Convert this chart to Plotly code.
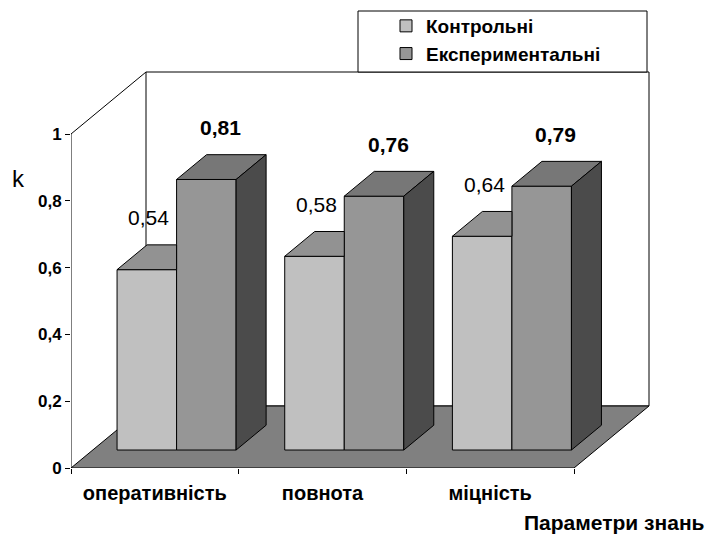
import plotly.graph_objects as go

# ---------------- data ----------------
categories = ["оперативність", "повнота", "міцність"]
series_names = ["Контрольні", "Експериментальні"]
control = [0.54, 0.58, 0.64]
experimental = [0.81, 0.76, 0.79]
y_tick_values = [0, 0.2, 0.4, 0.6, 0.8, 1.0]
y_tick_labels = ["0", "0,2", "0,4", "0,6", "0,8", "1"]
x_title = "Параметри знань"
y_title = "k"

# ---------------- geometry / style ----------------
W, H = 709, 534
ML, MR, MT, MB = 71, 9, 0, 66
PX_X = 167.67          # px per category
PX_Y = 334.0           # px per value unit
plot_w = W - ML - MR
plot_h = H - MT - MB
XR = [0, plot_w / PX_X]
YR = [0, plot_h / PX_Y]
DX = 75 / PX_X         # full depth offset (x)
DY = 62 / PX_Y         # full depth offset (y)
F1, F2 = 0.29, 0.69    # bar front/back depth fractions
BAR_W = 0.355
n = len(categories)

C_FRONT = ["#C0C0C0", "#969696"]
C_TOP = ["#929292", "#777777"]
C_SIDE = ["#606060", "#4B4B4B"]
FLOOR = "#808080"
FONT = "Liberation Sans, Arial, sans-serif"

base = F1 * DY
ddx = (F2 - F1) * DX
ddy = (F2 - F1) * DY

def px_x(p):
    return (p - ML) / plot_w

def px_y(p):
    return (H - MB - p) / plot_h

fig = go.Figure()

centers_c = [i + 0.5 + F1 * DX - BAR_W / 2 for i in range(n)]
centers_e = [i + 0.5 + F1 * DX + BAR_W / 2 for i in range(n)]

# front faces (real bars)
fig.add_trace(go.Bar(x=centers_c, y=control, base=[base] * n, width=BAR_W,
                     name=series_names[0],
                     marker=dict(color=C_FRONT[0], line=dict(color="black", width=1)),
                     hoverinfo="skip"))
fig.add_trace(go.Bar(x=centers_e, y=experimental, base=[base] * n, width=BAR_W,
                     name=series_names[1],
                     marker=dict(color=C_FRONT[1], line=dict(color="black", width=1)),
                     hoverinfo="skip"))

def poly(xs, ys, color):
    fig.add_trace(go.Scatter(x=xs + [xs[0]], y=ys + [ys[0]], mode="lines",
                             fill="toself", fillcolor=color,
                             line=dict(color="black", width=1),
                             showlegend=False, hoverinfo="skip"))

for i in range(n):
    vc, ve = control[i], experimental[i]
    # control bar top (clipped where hidden by experimental bar front)
    xl, xr = centers_c[i] - BAR_W / 2, centers_c[i] + BAR_W / 2
    t = base + vc
    if ve >= vc + ddy:
        poly([xl, xr, xr, xl + ddx], [t, t, t + ddy, t + ddy], C_TOP[0])
    else:
        poly([xl, xr, xr + ddx, xl + ddx], [t, t, t + ddy, t + ddy], C_TOP[0])
    # experimental bar top and side
    xl, xr = centers_e[i] - BAR_W / 2, centers_e[i] + BAR_W / 2
    t = base + ve
    poly([xl, xr, xr + ddx, xl + ddx], [t, t, t + ddy, t + ddy], C_TOP[1])
    poly([xr, xr, xr + ddx, xr + ddx], [base, t, t + ddy, base + ddy], C_SIDE[1])

def fmt(v):
    return f"{v:.2f}".replace(".", ",")

annotations = []
for i in range(n):
    annotations.append(dict(x=centers_c[i] + 2 / PX_X, y=base + control[i] + 52 / PX_Y,
                            text=fmt(control[i]), showarrow=False,
                            xanchor="center", yanchor="middle",
                            font=dict(family=FONT, size=21, color="black")))
    annotations.append(dict(x=centers_e[i] + 14 / PX_X, y=base + experimental[i] + 52 / PX_Y,
                            text=fmt(experimental[i]), showarrow=False,
                            xanchor="center", yanchor="middle",
                            font=dict(family=FONT, size=21, color="black", weight="bold")))
annotations.append(dict(xref="paper", yref="paper", x=px_x(18), y=px_y(178),
                        xanchor="center", yanchor="middle",
                        text=y_title, showarrow=False,
                        font=dict(family=FONT, size=24, color="black")))
annotations.append(dict(xref="paper", yref="paper", x=px_x(707), y=px_y(522),
                        xanchor="right", yanchor="middle", text=x_title, showarrow=False,
                        font=dict(family=FONT, size=21, color="black", weight="bold")))

shapes = [
    # back wall
    dict(type="rect", xref="x", yref="y", x0=DX, y0=DY, x1=n + DX, y1=1 + DY,
         fillcolor="white", line=dict(color="black", width=1), layer="below"),
    # floor
    dict(type="path", xref="x", yref="y",
         path=f"M 0,0 L {DX},{DY} L {n + DX},{DY} L {n},0 Z",
         fillcolor=FLOOR, line=dict(color="black", width=1), layer="below"),
    # value axis line and side wall edge
    dict(type="line", xref="x", yref="y", x0=0, y0=0, x1=0, y1=1,
         line=dict(color="black", width=1), layer="below"),
    dict(type="line", xref="x", yref="y", x0=0, y0=1, x1=DX, y1=1 + DY,
         line=dict(color="black", width=1), layer="below"),
    # legend box
    dict(type="rect", xref="paper", yref="paper", x0=px_x(358), x1=px_x(647),
         y0=px_y(72), y1=px_y(11), fillcolor="white",
         line=dict(color="black", width=1), layer="above"),
]

fig.update_layout(
    width=W, height=H, autosize=False,
    margin=dict(l=ML, r=MR, t=MT, b=MB, pad=0),
    paper_bgcolor="white", plot_bgcolor="white",
    barmode="overlay",
    font=dict(family=FONT, color="black"),
    showlegend=True,
    legend=dict(x=px_x(386), y=px_y(7), xanchor="left", yanchor="top",
                bgcolor="rgba(255,255,255,0)", borderwidth=0,
                font=dict(family=FONT, size=19, color="black", weight="bold"),
                tracegroupgap=0, traceorder="normal"),
    xaxis=dict(range=XR, showgrid=False, zeroline=False, showline=False,
               tickmode="array", tickvals=[i + 0.5 for i in range(n)], ticktext=categories,
               ticks="", ticklabelstandoff=11,
               tickfont=dict(family=FONT, size=20, color="black", weight="bold"),
               minor=dict(tickmode="array", tickvals=list(range(n + 1)), ticks="outside",
                          ticklen=5, tickcolor="black", tickwidth=1, showgrid=False),
               fixedrange=True),
    yaxis=dict(range=YR, showgrid=False, zeroline=False, showline=False,
               tickmode="array", tickvals=y_tick_values, ticktext=y_tick_labels,
               ticks="outside", ticklen=5, tickcolor="black", tickwidth=1,
               tickfont=dict(family=FONT, size=17, color="black", weight="bold"),
               fixedrange=True),
    annotations=annotations,
    shapes=shapes,
)

fig.write_html("out.html", config={"displayModeBar": False},
               post_script="document.body.style.margin='0px';")
